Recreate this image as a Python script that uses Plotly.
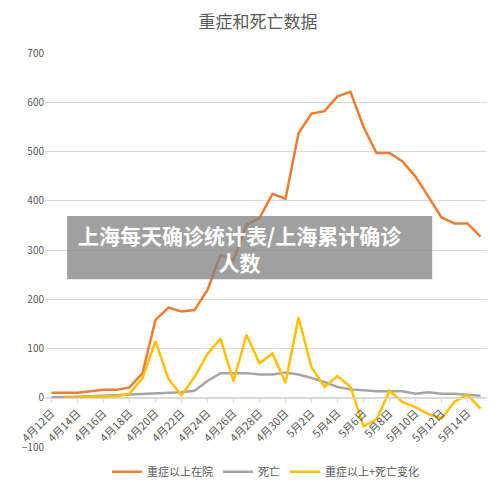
import plotly.graph_objects as go

dates = [f"4月{d}日" for d in range(12, 31)] + [f"5月{d}日" for d in range(1, 16)]
severe = [10, 10, 10, 13, 16, 16, 21, 50, 158, 183, 175, 178, 219, 290, 280, 351, 365, 414, 404, 537,
          577, 582, 612, 621, 550, 497, 497, 480, 449, 408, 366, 354, 354, 327]
deaths = [1, 1, 2, 3, 4, 5, 6, 7, 8, 9, 11, 14, 34, 50, 50, 50, 47, 47, 51, 47,
          40, 32, 22, 17, 15, 13, 13, 13, 8, 11, 8, 8, 6, 4]
change = [None, 0, 0, 2, 3, 3, 8, 40, 115, 38, 5, 42, 89, 120, 33, 128, 70, 90, 30, 163,
          62, 22, 44, 22, -58, -44, 14, -9, -19, -33, -42, -8, 6, -22]
yticks = [-100, 0, 100, 200, 300, 400, 500, 600, 700]

font = "Noto Sans CJK SC"
fig = go.Figure()
fig.add_trace(go.Scatter(x=dates, y=severe, mode="lines", name="重症以上在院",
                         line=dict(color="#ED7D31", width=2.5)))
fig.add_trace(go.Scatter(x=dates, y=deaths, mode="lines", name="死亡",
                         line=dict(color="#A5A5A5", width=2.5)))
fig.add_trace(go.Scatter(x=dates, y=change, mode="lines", name="重症以上+死亡变化",
                         line=dict(color="#FFC000", width=2.5)))

fig.update_layout(
    width=500, height=495, margin=dict(l=37, r=21, t=45, b=56, autoexpand=False),
    paper_bgcolor="white", plot_bgcolor="white",
    font=dict(family=font, color="#595959", size=11),
    title=dict(text="重症和死亡数据", x=0.5, xanchor="center", y=0.972, yanchor="middle",
               font=dict(size=17, color="#595959", family=font)),
    xaxis=dict(type="category", tickvals=dates[::2], tickangle=-45, anchor="free", position=0.125,
               automargin=False,
               showline=True, linecolor="#d9d9d9", ticks="outside", ticklen=4, tickcolor="#d9d9d9",
               showgrid=False, tickfont=dict(size=11, color="#595959"), range=[-0.5, 33.5]),
    yaxis=dict(range=[-100, 700], tickvals=yticks, showgrid=True, gridcolor="#d9d9d9",
               automargin=False,
               zeroline=False, tickfont=dict(size=10, color="#595959")),
    legend=dict(orientation="h", x=0.5, xanchor="center", y=-0.063, yanchor="middle",
                font=dict(size=11, color="#595959")),
    shapes=[dict(type="rect", xref="paper", yref="paper", x0=0.05, x1=0.876, y0=0.426, y1=0.586,
                 fillcolor="rgba(128,128,128,0.75)", line=dict(width=0), layer="above")],
    annotations=[dict(xref="paper", yref="paper", x=0.441, y=0.505, showarrow=False,
                      text="<b>上海每天确诊统计表/上海累计确诊<br>人数</b>",
                      font=dict(size=21, color="white", family=font), align="center")],
)
fig.write_html("out.html")
